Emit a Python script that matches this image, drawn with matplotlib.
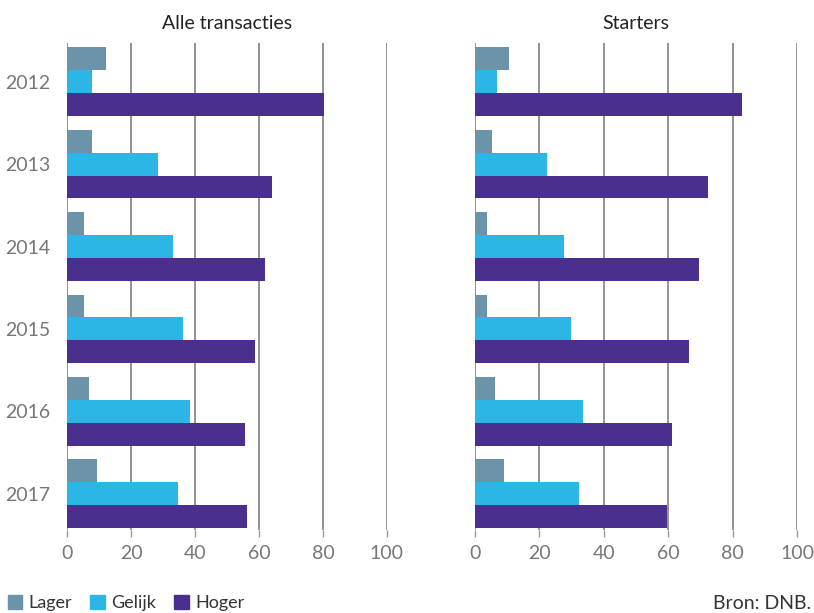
import numpy as np
import matplotlib.pyplot as plt

plt.rcParams['font.family'] = ['Lato', 'DejaVu Sans']

years = ['2012', '2013', '2014', '2015', '2016', '2017']
series = ['Lager', 'Gelijk', 'Hoger']
colors = ['#6b93a9', '#2cb6e5', '#4b2f8f']

# Alle transacties
alle_lager = [12.3, 7.9, 5.4, 5.4, 7.0, 9.5]
alle_gelijk = [7.9, 28.5, 33.2, 36.3, 38.5, 34.8]
alle_hoger = [80.4, 64.2, 62.0, 58.9, 55.7, 56.3]

# Starters
start_lager = [10.6, 5.3, 3.7, 3.7, 6.2, 9.0]
start_gelijk = [6.8, 22.4, 27.7, 29.8, 33.6, 32.3]
start_hoger = [83.0, 72.4, 69.6, 66.5, 61.2, 59.7]

panels = [
    ('Alle transacties', [alle_lager, alle_gelijk, alle_hoger]),
    ('Starters', [start_lager, start_gelijk, start_hoger]),
]

fig = plt.figure(figsize=(8.14, 6.13), dpi=100)
ax_pos = [[0.0823, 0.1354, 0.393, 0.7945], [0.5835, 0.1354, 0.3956, 0.7945]]

y = np.arange(len(years))
h = 0.278
grey = '#777777'
fs = 14

for i, (title, vals) in enumerate(panels):
    ax = fig.add_axes(ax_pos[i])
    for k, v in enumerate(vals):
        ax.barh(y + (k - 1) * h, v, height=h, color=colors[k], label=series[k], zorder=2)
    ax.set_xlim(0, 100)
    ax.set_ylim(5.44, -0.47)
    ax.set_xticks([0, 20, 40, 60, 80, 100])
    ax.grid(axis='x', color='#8a8a8a', linewidth=1.3, zorder=0)
    ax.set_axisbelow(True)
    for s in ax.spines.values():
        s.set_visible(False)
    ax.tick_params(axis='x', colors='#999999', labelcolor=grey, labelsize=fs,
                   length=5, width=1, direction='out', pad=6)
    if i == 0:
        ax.set_yticks(y)
        ax.set_yticklabels(years)
        ax.tick_params(axis='y', length=0, labelsize=fs, labelcolor=grey, pad=12)
    else:
        ax.set_yticks([])
    ax.set_title(title, fontsize=fs, color='#222222', pad=10)

handles = [plt.Rectangle((0, 0), 1, 1, color=c) for c in colors]
fig.legend(handles, series, loc='center left', bbox_to_anchor=(0.0098, 0.0163), ncol=3,
           frameon=False, fontsize=13, handlelength=0.8, handleheight=0.8,
           columnspacing=1.0, handletextpad=0.35, labelcolor='#333333',
           borderpad=0, borderaxespad=0)
fig.text(0.997, 0.0163, 'Bron: DNB.', ha='right', va='center', fontsize=fs, color='#333333')

fig.savefig('out.png', dpi=100)
